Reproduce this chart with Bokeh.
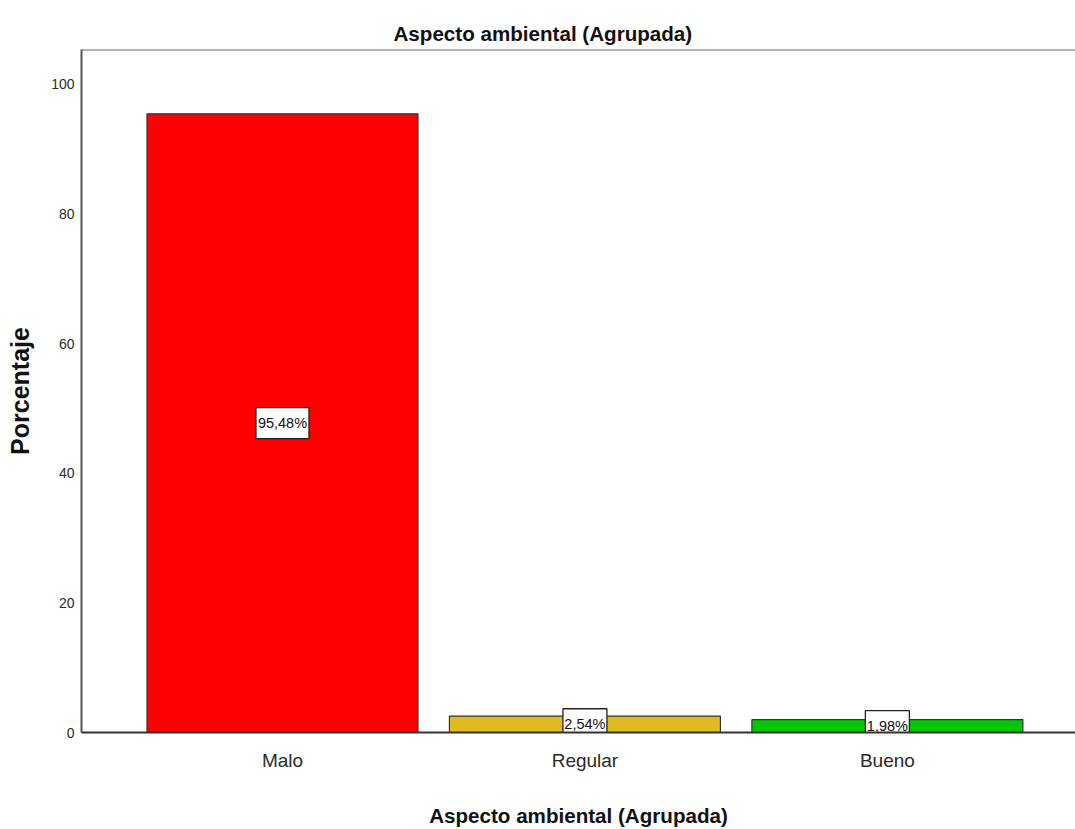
from bokeh.plotting import figure
from bokeh.models import (ColumnDataSource, Range1d, FixedTicker, Span, Title)
from bokeh.core.properties import value
from bokeh.embed import file_html
from bokeh.resources import INLINE
import numpy as np

# ---- data ----
categories = ["Malo", "Regular", "Bueno"]
percentages = [95.48, 2.54, 1.98]
value_labels = ["95,48%", "2,54%", "1,98%"]
bar_colors = ["#FF0000", "#E1BA22", "#00C800"]
y_ticks = [0, 20, 40, 60, 80, 100]

FONT = "Liberation Sans"

x_pos = np.arange(len(categories)) + 0.5
src = ColumnDataSource(dict(
    x=x_pos,
    top=percentages,
    mid=[v / 2 for v in percentages],
    lab=value_labels,
    boxw=[9 * len(s) - 1 for s in value_labels],
    color=bar_colors,
))

Y_END = 105.4
p = figure(width=1075, height=829, output_backend="svg", toolbar_location=None,
           x_range=Range1d(-0.1645, 3.122), y_range=Range1d(0, Y_END),
           min_border_left=81, min_border_right=0, min_border_top=49,
           min_border_bottom=96)
p.outline_line_color = None
p.background_fill_color = "white"
p.border_fill_color = "white"
p.xgrid.visible = False
p.ygrid.visible = False

title = Title(text="Aspecto ambiental (Agrupada)", align="left", offset=312,
              text_font=FONT, text_font_size="20.6px", text_font_style="bold",
              text_color="#111111", standoff=10)
p.add_layout(title, "above")

p.vbar(x="x", top="top", width=0.896, bottom=0, source=src,
       fill_color="color", line_color="#333333", line_width=1.2)

# value label boxes
p.rect(x="x", y="mid", width="boxw", height=31, width_units="screen", height_units="screen",
       source=src, fill_color="white", line_color="#222222", line_width=1.3)
p.text(x="x", y="mid", text="lab", source=src, text_align="center",
       text_baseline="middle", text_font=value(FONT), text_font_size="14.5px",
       text_color="#111111")

top_line = Span(location=Y_END, dimension="width", line_color="#6a6a6a", line_width=2)
p.add_layout(top_line)

# x axis
p.xaxis.ticker = FixedTicker(ticks=list(x_pos))
p.xaxis.major_label_overrides = {float(x): c for x, c in zip(x_pos, categories)}
p.xaxis.major_tick_in = 0
p.xaxis.major_tick_out = 0
p.xaxis.minor_tick_line_color = None
p.xaxis.axis_line_color = "#333333"
p.xaxis.axis_line_width = 2
p.xaxis.major_label_text_font = FONT
p.xaxis.major_label_text_font_size = "19px"
p.xaxis.major_label_text_color = "#2a2a2a"
p.xaxis.major_label_standoff = 17
p.xaxis.axis_label = "Aspecto ambiental (Agrupada)"
p.xaxis.axis_label_text_font = FONT
p.xaxis.axis_label_text_font_size = "20.6px"
p.xaxis.axis_label_text_font_style = "bold"
p.xaxis.axis_label_text_color = "#111111"
p.xaxis.axis_label_standoff = 30

# y axis
p.yaxis.ticker = FixedTicker(ticks=y_ticks)
p.yaxis.major_tick_in = 0
p.yaxis.major_tick_out = 0
p.yaxis.minor_tick_line_color = None
p.yaxis.axis_line_color = "#555555"
p.yaxis.axis_line_width = 2
p.yaxis.major_label_text_font = FONT
p.yaxis.major_label_text_font_size = "14px"
p.yaxis.major_label_text_color = "#2a2a2a"
p.yaxis.major_label_standoff = 7
p.yaxis.axis_label = "Porcentaje"
p.yaxis.axis_label_text_font = FONT
p.yaxis.axis_label_text_font_size = "25px"
p.yaxis.axis_label_text_font_style = "bold"
p.yaxis.axis_label_text_color = "#111111"
p.yaxis.axis_label_standoff = 14

open("out.html", "w").write(file_html(p, INLINE))
